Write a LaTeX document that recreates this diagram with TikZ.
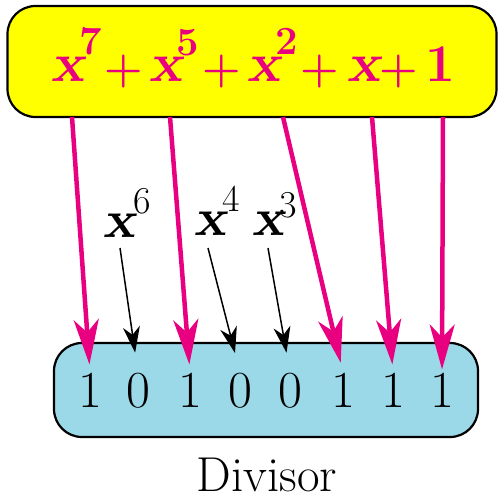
\documentclass[tikz,border=0pt]{standalone}
\usepackage{fontspec}
\usetikzlibrary{arrows.meta}
\definecolor{mag}{RGB}{232,0,128}
\definecolor{lblue}{RGB}{155,217,233}
\definecolor{ybox}{RGB}{255,255,0}
\newcommand\fsz[1]{\fontsize{#1}{#1}\selectfont}
\tikzset{
  boxstyle/.style={draw=black, line width=2.2pt, rounded corners=28pt, inner sep=0pt},
  txt/.style={inner sep=0pt, anchor=base},
  polyx/.style={txt, text=mag, font=\fsz{55}\bfseries\slshape},
  polysup/.style={txt, text=mag, font=\fsz{40}\bfseries},
  polyplus/.style={inner sep=0pt, anchor=center, text=mag, font=\fsz{44}\bfseries},
  labx/.style={txt, font=\fsz{53}\bfseries\slshape},
  labsup/.style={txt, font=\fsz{38}},
  bit/.style={txt, font=\fsz{52}},
  marrow/.style={draw=mag, line width=4.5pt, -{Stealth[length=45pt, width=25pt, inset=13pt]}},
  barrow/.style={draw=black, line width=1.5pt, -{Stealth[length=26pt, width=17pt, inset=8pt]}}
}
\begin{document}
\begin{tikzpicture}[x=1pt, y=-1pt]
\useasboundingbox (0,0) rectangle (498,500);
% boxes
\node[boxstyle, fill=ybox, minimum width=489pt, minimum height=111pt] (poly) at (252,61.5) {};
\node[boxstyle, fill=lblue, minimum width=424pt, minimum height=94pt] (div) at (266,390) {};
% polynomial
\node[polyx] (x7) at (68,82) {x};
\node[polysup] (s7) at (91,55) {7};
\node[polyplus] (p1) at (124,72) {+};
\node[polyx] (x5) at (166,82) {x};
\node[polysup] (s5) at (188,56) {5};
\node[polyplus] (p2) at (222,72) {+};
\node[polyx] (x2) at (264,82) {x};
\node[polysup] (s2) at (287,55) {2};
\node[polyplus] (p3) at (320,72) {+};
\node[polyx] (x1) at (364,82) {x};
\node[polyplus] (p4) at (399,72) {+};
\node[txt, text=mag, font=\fsz{53}\bfseries] (one) at (440,82) {1};
% missing terms
\node[labx] (l6) at (120,237) {x};
\node[labsup] (l6s) at (142,213) {6};
\node[labx] (l4) at (211,235) {x};
\node[labsup] (l4s) at (231,211) {4};
\node[labx] (l3) at (269,235) {x};
\node[labsup] (l3s) at (288,217) {3};
% bits
\node[bit] (b1) at (90,407) {1};
\node[bit] (b2) at (138,407) {0};
\node[bit] (b3) at (190,407) {1};
\node[bit] (b4) at (240,407) {0};
\node[bit] (b5) at (290,407) {0};
\node[bit] (b6) at (343,407) {1};
\node[bit] (b7) at (393,407) {1};
\node[bit] (b8) at (442,407) {1};
\node[txt, font=\fsz{49}] (divlab) at (267,491) {Divisor};
% connector start points
\coordinate (m1) at (72,117);
\coordinate (m2) at (170,117);
\coordinate (m3) at (283,117);
\coordinate (m4) at (372,117);
\coordinate (m5) at (443,117);
\coordinate (k6) at (120,248);
\coordinate (k4) at (208,248);
\coordinate (k3) at (268,248);
% magenta arrows
\draw[marrow, shorten >=8pt] (m1) -- (b1.north);
\draw[marrow, shorten >=8pt] (m2) -- (b3.north);
\draw[marrow, shorten >=10pt] (m3) -- (b6.north);
\draw[marrow, shorten >=8pt] (m4) -- (b7.north);
\draw[marrow, shorten >=3pt] (m5) -- (b8.north);
% black arrows
\draw[barrow, shorten >=20pt] (k6) -- (b2.north);
\draw[barrow, shorten >=20pt] (k4) -- (b4.north);
\draw[barrow, shorten >=20pt] (k3) -- (b5.north);
\end{tikzpicture}
\end{document}
